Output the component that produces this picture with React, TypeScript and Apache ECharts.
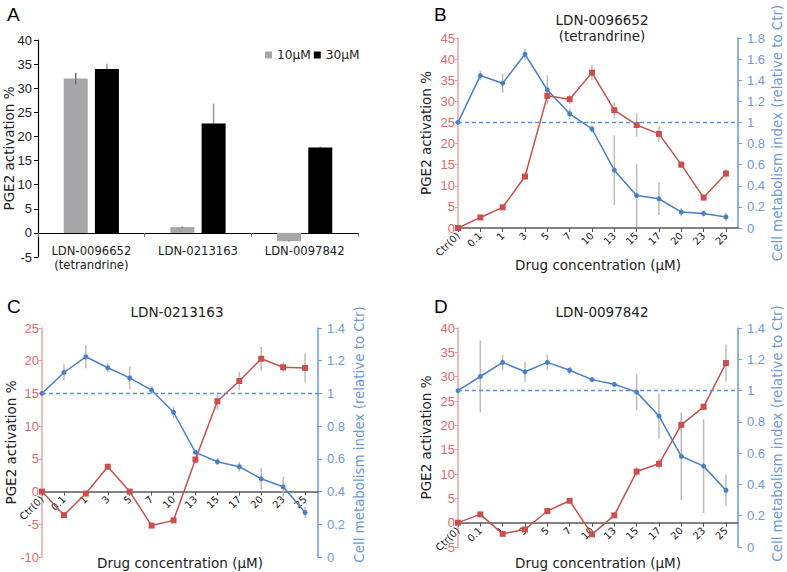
import React, { useEffect, useRef } from "react";
import * as echarts from "echarts";

// ---------- Data ----------
const compounds = ["LDN-0096652\n(tetrandrine)", "LDN-0213163", "LDN-0097842"];
const a10uM = [32.0, 1.2, -1.7];
const a10uMErr = [1.2, 0.1, 0.1];
const a30uM = [34.0, 22.7, 17.7];
const a30uMErr = [1.1, 4.1, 0.2];

const concentrations = ["Ctr(0)", "0.1", "1", "3", "5", "7", "10", "13", "15", "17", "20", "23", "25"];

const bPge = [0, 2.5, 4.9, 12.2, 31.3, 30.5, 36.8, 27.9, 24.4, 22.3, 15.0, 7.2, 12.9];
const bPgeErr = [0, 0.3, 0.4, 0.5, 1.0, 1.1, 1.8, 1.9, 2.8, 1.8, 0.8, 0.5, 1.1];
const bCell = [1.0, 1.444, 1.372, 1.646, 1.309, 1.082, 0.938, 0.548, 0.308, 0.277, 0.151, 0.138, 0.104];
const bCellErr = [0, 0.045, 0.09, 0.055, 0.14, 0.05, 0.03, 0.33, 0.3, 0.155, 0.04, 0.03, 0.04];

const cPge = [0, -3.6, -0.3, 3.8, 0, -5.2, -4.4, 4.9, 13.8, 16.9, 20.3, 19.0, 18.9];
const cPgeErr = [0, 0.3, 0.3, 0.3, 0.2, 0.3, 0.4, 0.5, 1.3, 1.4, 1.8, 0.7, 2.2];
const cCell = [1.0, 1.128, 1.224, 1.157, 1.095, 1.02, 0.885, 0.64, 0.582, 0.552, 0.478, 0.429, 0.272];
const cCellErr = [0, 0.05, 0.07, 0.027, 0.07, 0.025, 0.035, 0.01, 0.02, 0.03, 0.065, 0.06, 0.035];

const dPge = [0, 1.7, -2.3, -1.4, 2.4, 4.5, -2.4, 1.5, 10.5, 12.1, 20.1, 23.8, 32.8];
const dPgeErr = [0, 0.3, 0.3, 0.3, 0.3, 0.3, 0.3, 0.3, 1.0, 1.0, 1.5, 0.7, 3.8];
const dCell = [1.0, 1.09, 1.18, 1.12, 1.18, 1.13, 1.07, 1.04, 0.99, 0.838, 0.58, 0.517, 0.363];
const dCellErr = [0, 0.23, 0.05, 0.065, 0.05, 0.02, 0.015, 0.015, 0.115, 0.145, 0.28, 0.3, 0.1];

// ---------- Styles ----------
const RED = "#c8504e";
const RED_LABEL = "#e06b6b";
const RED_AXIS = "#e8a3a3";
const BLUE = "#4a80c8";
const BLUE_LABEL = "#6e9ad6";
const DASH = "#5b93dc";
const ERR = "#bcbcbc";
const NAME_FONT = "DejaVu Sans";
const TICK_FONT = "Liberation Sans";
const NAME_SIZE = 13.5;

const idx = concentrations.map((_, i) => i);
const ticksIdx = concentrations.map((_, i) => i);

function errRender(offset: number, color: string) {
  return (params: any, api: any) => {
    const x = api.value(0);
    const y = api.value(1);
    const e = api.value(2);
    if (!e) return null;
    const p1 = api.coord([x, y - e]);
    const p2 = api.coord([x, y + e]);
    return {
      type: "line",
      shape: { x1: p1[0] + offset, y1: p1[1], x2: p2[0] + offset, y2: p2[1] },
      style: { stroke: color, lineWidth: 1.5 },
    };
  };
}

function panel(
  gi: number,
  grid: { left: number; top: number; width: number; height: number },
  xMax: number,
  left: { min: number; max: number; interval: number },
  right: { min: number; max: number; interval: number },
  pge: number[],
  pgeErr: number[],
  cell: number[],
  cellErr: number[],
  xNameGap: number,
  leftNameGap: number,
  rightNameGap: number,
  rightNameShift: number
) {
  const yl = 1 + (gi - 1) * 2;
  const yr = yl + 1;
  // place the category line at the zero of the left axis
  const zeroOffset = -grid.height * (0 - left.min) / (left.max - left.min);
  const xAxis = {
    type: "value",
    gridIndex: gi,
    min: 0,
    max: xMax,
    interval: 1,
    offset: zeroOffset,
    splitLine: { show: false },
    axisLine: { onZero: false, lineStyle: { color: "#595959", width: 1.5 } },
    axisTick: { show: true, customValues: ticksIdx, length: 4, lineStyle: { color: "#595959" } },
    axisLabel: {
      customValues: ticksIdx,
      formatter: (v: number) => concentrations[Math.round(v)] ?? "",
      rotate: 45,
      fontFamily: NAME_FONT,
      fontSize: 10,
      color: "#222",
      margin: 6,
    },
    name: "Drug concentration (μM)",
    nameLocation: "middle",
    nameGap: xNameGap,
    nameMoveOverlap: false,
    nameTextStyle: { fontFamily: NAME_FONT, fontSize: NAME_SIZE, color: "#222" },
  };
  const yAxes = [
    {
      type: "value",
      gridIndex: gi,
      position: "left",
      min: left.min,
      max: left.max,
      interval: left.interval,
      splitLine: { show: false },
      axisLine: { show: true, onZero: false, lineStyle: { color: RED_AXIS, width: 1.5 } },
      axisTick: { show: true, length: 3, lineStyle: { color: RED_AXIS } },
      axisLabel: { color: RED_LABEL, fontFamily: TICK_FONT, fontSize: 13, margin: 3 },
      name: "PGE2 activation %",
      nameLocation: "middle",
      nameGap: leftNameGap,
      nameMoveOverlap: false,
      nameTextStyle: { fontFamily: NAME_FONT, fontSize: NAME_SIZE, color: "#222" },
    },
    {
      type: "value",
      gridIndex: gi,
      position: "right",
      min: right.min,
      max: right.max,
      interval: right.interval,
      splitLine: { show: false },
      axisLine: { show: true, onZero: false, lineStyle: { color: BLUE_LABEL, width: 1.5 } },
      axisTick: { show: true, length: 4, lineStyle: { color: BLUE_LABEL } },
      axisLabel: { color: BLUE_LABEL, fontFamily: TICK_FONT, fontSize: 13, margin: 9 },
      name: "Cell metabolism index (relative to Ctr)",
      nameLocation: "middle",
      nameGap: rightNameGap,
      nameRotate: 90,
      nameMoveOverlap: false,
      nameTextStyle: {
        fontFamily: NAME_FONT,
        fontSize: 13.4,
        color: BLUE_LABEL,
        padding: [0, 0, 0, rightNameShift],
      },
    },
  ];
  const series = [
    {
      type: "custom",
      xAxisIndex: gi,
      yAxisIndex: yl,
      renderItem: errRender(0, ERR),
      data: idx.map((i) => [i, pge[i], pgeErr[i]]),
      z: 1,
      silent: true,
    },
    {
      type: "custom",
      xAxisIndex: gi,
      yAxisIndex: yr,
      renderItem: errRender(0, ERR),
      data: idx.map((i) => [i, cell[i], cellErr[i]]),
      z: 1,
      silent: true,
    },
    {
      type: "line",
      xAxisIndex: gi,
      yAxisIndex: yl,
      data: idx.map((i) => [i, pge[i]]),
      symbol: "rect",
      symbolSize: 6,
      itemStyle: { color: RED },
      lineStyle: { color: RED, width: 1.5 },
      z: 3,
    },
    {
      type: "line",
      xAxisIndex: gi,
      yAxisIndex: yr,
      data: idx.map((i) => [i, cell[i]]),
      symbol: "circle",
      symbolSize: 5,
      itemStyle: { color: BLUE },
      lineStyle: { color: BLUE, width: 1.5 },
      z: 4,
      markLine: {
        silent: true,
        symbol: "none",
        label: { show: false },
        lineStyle: { color: DASH, type: [4, 3], width: 1.3, opacity: 1 },
        emphasis: { disabled: true },
        data: [{ yAxis: 1 }],
      },
    },
  ];
  return { grid: { ...grid, outerBoundsMode: "none", containLabel: false }, xAxis, yAxes, series };
}

export default function App() {
  const ref = useRef<HTMLDivElement>(null);
  useEffect(() => {
    if (!ref.current) return;
    const chart = echarts.init(ref.current, undefined, { renderer: "svg" });

    const pB = panel(
      1,
      { left: 458, top: 38, width: 280, height: 190 },
      12.54,
      { min: 0, max: 45, interval: 5 },
      { min: 0, max: 1.8, interval: 0.2 },
      bPge, bPgeErr, bCell, bCellErr, 30, 25, 33, 0
    );
    const pC = panel(
      2,
      { left: 42, top: 328, width: 276, height: 229 },
      12.59,
      { min: -10, max: 25, interval: 5 },
      { min: 0, max: 1.4, interval: 0.2 },
      cPge, cPgeErr, cCell, cCellErr, 64, 24, 35, 16
    );
    const pD = panel(
      3,
      { left: 458, top: 328, width: 280, height: 219 },
      12.54,
      { min: -5, max: 40, interval: 5 },
      { min: 0, max: 1.4, interval: 0.2 },
      dPge, dPgeErr, dCell, dCellErr, 33, 25, 33, 8
    );

    const titleStyle = { fontFamily: NAME_FONT, fontSize: 13.5, fontWeight: "normal", color: "#222", lineHeight: 14 };
    const option: any = {
      animation: false,
      backgroundColor: "#ffffff",
      title: [
        { text: "LDN-0096652", left: 602, top: 13, textAlign: "center", textStyle: titleStyle, padding: 0 },
        { text: "(tetrandrine)", left: 602, top: 29, textAlign: "center", textStyle: titleStyle, padding: 0 },
        { text: "LDN-0213163", left: 177, top: 305, textAlign: "center", textStyle: titleStyle, padding: 0 },
        { text: "LDN-0097842", left: 602, top: 305, textAlign: "center", textStyle: titleStyle, padding: 0 },
      ],
      legend: {
        data: ["10μM", "30μM"],
        left: 260,
        top: 44,
        icon: "rect",
        itemWidth: 7,
        itemHeight: 7,
        itemGap: 3,
        textStyle: { fontFamily: NAME_FONT, fontSize: 12.2, color: "#222" },
      },
      grid: [
        { left: 38, top: 40, width: 320, height: 217, outerBoundsMode: "none", containLabel: false },
        pB.grid,
        pC.grid,
        pD.grid,
      ],
      xAxis: [
        {
          type: "category",
          gridIndex: 0,
          data: compounds,
          axisLine: { onZero: true, lineStyle: { color: "#000", width: 1.2 } },
          axisTick: { show: true, length: 4, lineStyle: { color: "#777" } },
          axisLabel: {
            interval: 0,
            fontFamily: NAME_FONT,
            fontSize: 11.6,
            color: "#222",
            lineHeight: 14,
            margin: -13,
          },
        },
        pB.xAxis,
        pC.xAxis,
        pD.xAxis,
      ],
      yAxis: [
        {
          type: "value",
          gridIndex: 0,
          min: -5,
          max: 40,
          interval: 5,
          splitLine: { show: false },
          axisLine: { show: true, onZero: false, lineStyle: { color: "#000", width: 1.2 } },
          axisTick: { show: true, length: 4, lineStyle: { color: "#000" } },
          axisLabel: { fontFamily: TICK_FONT, fontSize: 13, color: "#222", margin: 6 },
          name: "PGE2 activation %",
          nameLocation: "middle",
          nameGap: 22,
          nameMoveOverlap: false,
          nameTextStyle: { fontFamily: NAME_FONT, fontSize: NAME_SIZE, color: "#222" },
        },
        ...pB.yAxes,
        ...pC.yAxes,
        ...pD.yAxes,
      ],
      series: [
        {
          name: "10μM",
          type: "bar",
          xAxisIndex: 0,
          yAxisIndex: 0,
          data: a10uM,
          barWidth: 24,
          barGap: "30%",
          itemStyle: { color: "#a6a6a8" },
          z: 2,
        },
        {
          name: "30μM",
          type: "bar",
          xAxisIndex: 0,
          yAxisIndex: 0,
          data: a30uM,
          barWidth: 24,
          itemStyle: { color: "#000000" },
          z: 2,
        },
        {
          type: "custom",
          xAxisIndex: 0,
          yAxisIndex: 0,
          renderItem: errRender(-15.6, "#707070"),
          data: compounds.map((_, i) => [i, a10uM[i], a10uMErr[i]]),
          z: 5,
          silent: true,
        },
        {
          type: "custom",
          xAxisIndex: 0,
          yAxisIndex: 0,
          renderItem: errRender(15.6, "#9a9a9a"),
          data: compounds.map((_, i) => [i, a30uM[i], a30uMErr[i]]),
          z: 1,
          silent: true,
        },
        ...pB.series,
        ...pC.series,
        ...pD.series,
      ],
      graphic: [
        { type: "text", left: 7, top: 5, style: { text: "A", fontFamily: "Liberation Sans", fontSize: 19, fill: "#000" } },
        { type: "text", left: 434, top: 5, style: { text: "B", fontFamily: "Liberation Sans", fontSize: 19, fill: "#000" } },
        { type: "text", left: 7, top: 297, style: { text: "C", fontFamily: "Liberation Sans", fontSize: 19, fill: "#000" } },
        { type: "text", left: 434, top: 297, style: { text: "D", fontFamily: "Liberation Sans", fontSize: 19, fill: "#000" } },
      ],
    };
    chart.setOption(option);
    return () => chart.dispose();
  }, []);
  return (
    <div
      ref={ref}
      style={{ position: "fixed", left: 0, top: 0, width: 787, height: 572, background: "#fff" }}
    />
  );
}
